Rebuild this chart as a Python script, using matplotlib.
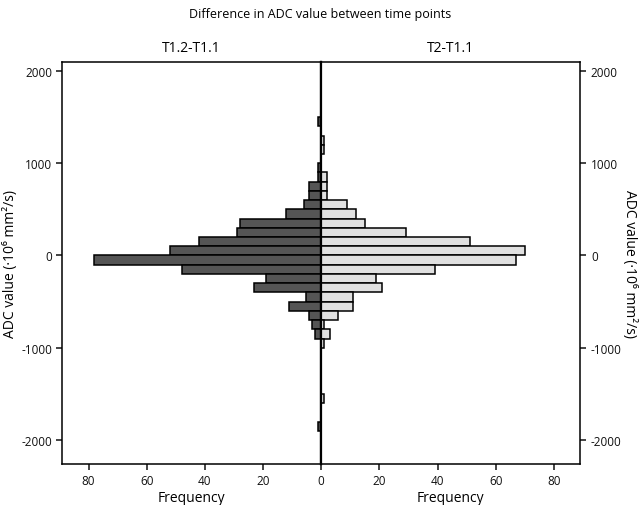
import numpy as np
import matplotlib
matplotlib.use('Agg')
import matplotlib.pyplot as plt

plt.rcParams['font.family'] = ['Open Sans', 'DejaVu Sans']

# lower edge of each 100-wide ADC bin
bin_lower = [1400, 1300, 1200, 1100, 1000, 900, 800, 700, 600, 500, 400, 300,
             200, 100, 0, -100, -200, -300, -400, -500, -600, -700, -800,
             -900, -1000, -1100, -1200, -1300, -1400, -1500, -1600, -1700,
             -1800, -1900]
bin_width = 100

# T1.2-T1.1 counts
freq_t12 = [1, 0, 0, 0, 0, 1, 1, 4, 4, 6, 12, 28, 29, 42, 52, 78, 48, 19,
            23, 5, 11, 4, 3, 2, 0, 0, 0, 0, 0, 0, 0, 0, 0, 1]
# T2-T1.1 counts
freq_t2 = [0, 0, 1, 1, 0, 0, 2, 2, 2, 9, 12, 15, 29, 51, 70, 67, 39, 19,
           21, 11, 11, 6, 1, 3, 1, 0, 0, 0, 0, 0, 1, 0, 0, 0]

x_ticks = [0, 20, 40, 60, 80]
y_ticks = [2000, 1000, 0, -1000, -2000]
ylabel = 'ADC value (·10⁶ mm²/s)'

fig = plt.figure(figsize=(6.4, 5.06), dpi=100)
ax_l = fig.add_axes([0.0975, 0.081, 0.404, 0.795])
ax_r = fig.add_axes([0.5015, 0.081, 0.4055, 0.795], sharey=ax_l)

ax_l.barh(bin_lower, freq_t12, height=bin_width, align='edge',
          color='#555555', edgecolor='black', linewidth=1.1)
ax_r.barh(bin_lower, freq_t2, height=bin_width, align='edge',
          color='#e0e0e0', edgecolor='black', linewidth=1.1)

ax_l.set_xlim(89, 0)
ax_r.set_xlim(0, 89)
ax_l.set_ylim(-2260, 2100)

for ax in (ax_l, ax_r):
    for s in ax.spines.values():
        s.set_linewidth(1.1)
    ax.tick_params(labelsize=8.5, width=1.1, length=4, colors='#111111')

ax_l.spines['right'].set_linewidth(1.6)
ax_r.spines['left'].set_linewidth(1.6)

ax_l.set_xticks(x_ticks)
ax_r.set_xticks(x_ticks[1:])
ax_l.set_yticks(y_ticks)
ax_l.set_yticklabels([str(v) for v in y_ticks])
ax_r.yaxis.tick_right()
ax_r.tick_params(axis='y', labelright=True, labelleft=False)
ax_r.set_yticks(y_ticks)
ax_r.set_yticklabels([str(v) for v in y_ticks])

ax_l.set_xlabel('Frequency', fontsize=10, labelpad=2)
ax_r.set_xlabel('Frequency', fontsize=10, labelpad=2)
ax_l.set_ylabel(ylabel, fontsize=10, labelpad=2)
ax_r.yaxis.set_label_position('right')
ax_r.set_ylabel(ylabel, fontsize=10, rotation=-90, labelpad=11)

ax_l.set_title('T1.2-T1.1', fontsize=10, pad=8)
ax_r.set_title('T2-T1.1', fontsize=10, pad=8)
fig.suptitle('Difference in ADC value between time points', fontsize=9,
             x=0.5, y=0.985)

fig.savefig('out.png', dpi=100)
